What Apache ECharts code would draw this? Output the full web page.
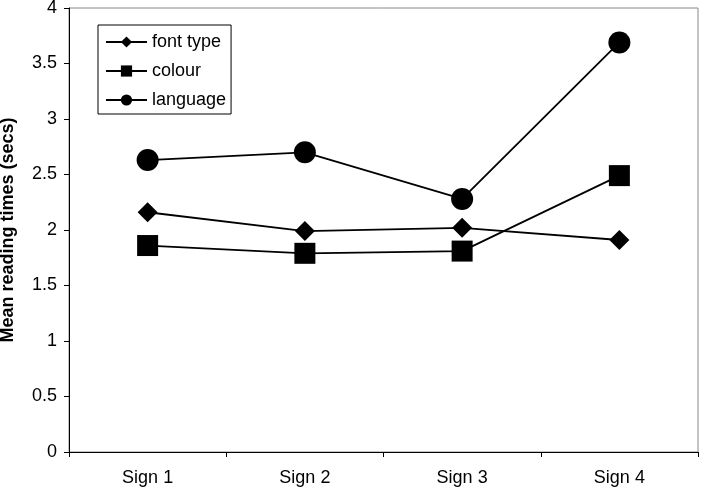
<!DOCTYPE html>
<html>
<head>
<meta charset="utf-8">
<script src="https://cdn.jsdelivr.net/npm/echarts@6/dist/echarts.min.js"></script>
<style>
  html, body { margin: 0; padding: 0; background: #fff; }
  #chart { width: 702px; height: 496px; }
</style>
</head>
<body>
<div id="chart"></div>
<script>
// mean reading times per sign
const categories = ['Sign 1', 'Sign 2', 'Sign 3', 'Sign 4']
const fontType = [2.16, 1.99, 2.02, 1.91]
const colour = [1.86, 1.79, 1.81, 2.49]
const language = [2.63, 2.70, 2.28, 3.69]

const font = 'Liberation Sans, Arial, sans-serif'

const chart = echarts.init(document.getElementById('chart'))

function lineSeries(name, data, symbol, size) {
  return {
    name: name,
    type: 'line',
    data: data,
    symbol: symbol,
    symbolSize: size,
    showAllSymbol: true,
    lineStyle: { color: '#000', width: 1.8 },
    itemStyle: { color: '#000' },
    emphasis: { disabled: true },
    z: 3
  }
}

const option = {
  animation: false,
  backgroundColor: '#fff',
  textStyle: { fontFamily: font },
  grid: {
    left: 69,
    right: 4,
    top: 8,
    bottom: 44,
    containLabel: false,
    outerBoundsMode: 'none',
    show: true,
    borderColor: '#888',
    borderWidth: 1
  },
  legend: {
    orient: 'vertical',
    left: 98,
    top: 25,
    backgroundColor: '#fff',
    borderColor: '#000',
    borderWidth: 1,
    padding: [8, 5, 5, 7],
    itemWidth: 41,
    itemHeight: 14,
    itemGap: 11,
    textStyle: { color: '#000', fontSize: 18, fontFamily: font },
    data: ['font type', 'colour', 'language']
  },
  xAxis: {
    type: 'category',
    data: categories,
    axisLine: { lineStyle: { color: '#000', width: 1 } },
    axisTick: { show: true, length: 5, lineStyle: { color: '#000' } },
    axisLabel: { color: '#000', fontSize: 18, margin: 17, fontFamily: font },
    splitLine: { show: false }
  },
  yAxis: {
    type: 'value',
    min: 0,
    max: 4,
    interval: 0.5,
    name: 'Mean reading times (secs)',
    nameLocation: 'middle',
    nameGap: 52,
    nameTextStyle: { color: '#000', fontSize: 18, fontWeight: 'bold', fontFamily: font },
    axisLine: { show: true, lineStyle: { color: '#000', width: 1 } },
    axisTick: { show: true, length: 5, lineStyle: { color: '#000' } },
    axisLabel: { color: '#000', fontSize: 18, margin: 12, fontFamily: font },
    splitLine: { show: false }
  },
  series: [
    lineSeries('font type', fontType, 'diamond', 20),
    lineSeries('colour', colour, 'rect', 21),
    lineSeries('language', language, 'circle', 22)
  ]
}

chart.setOption(option)
</script>
</body>
</html>
